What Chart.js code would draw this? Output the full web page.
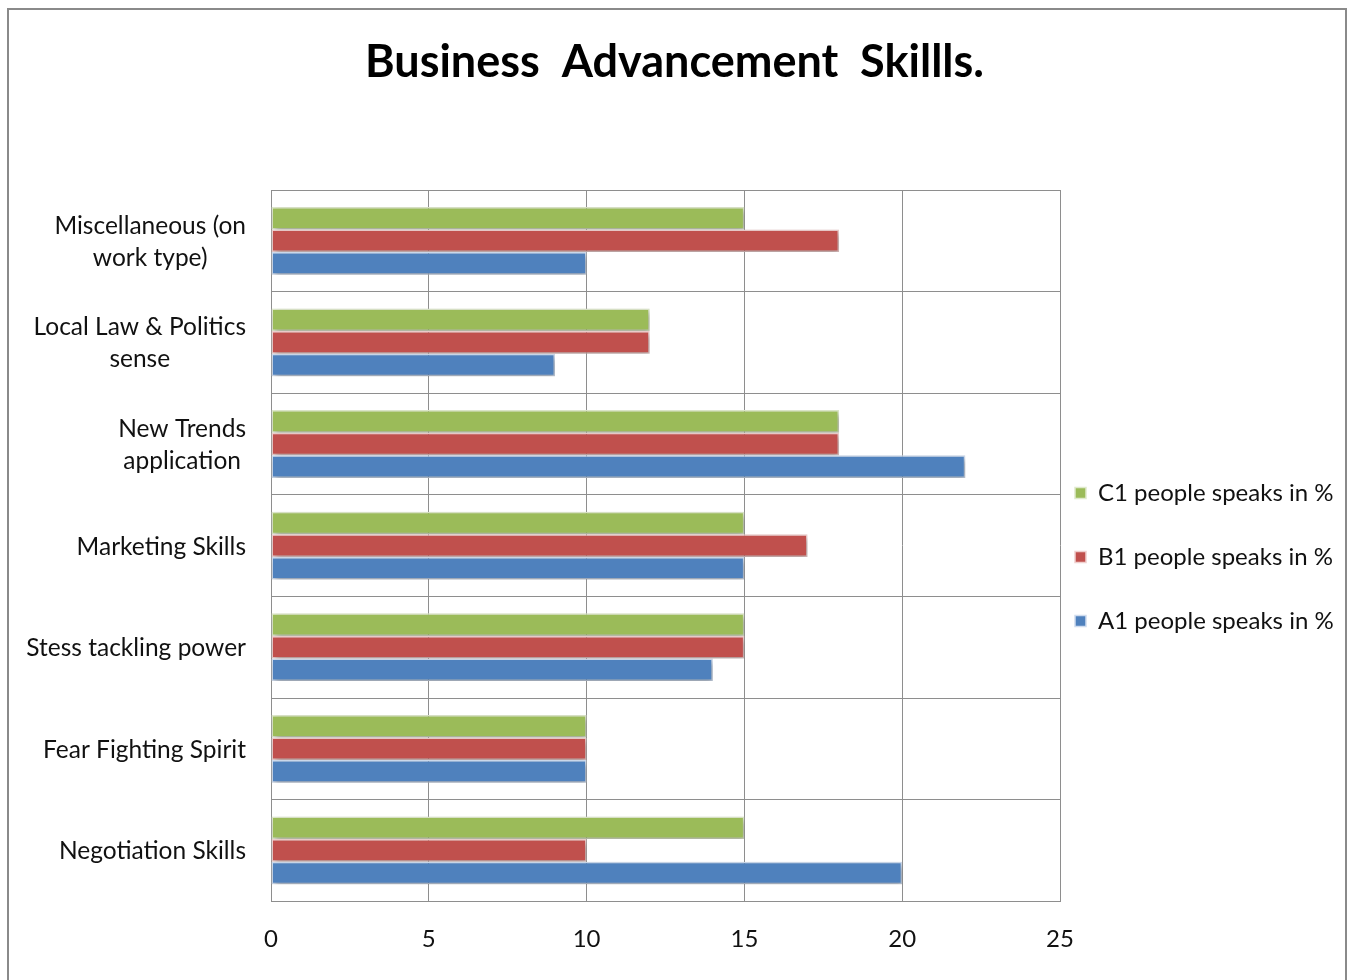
<!DOCTYPE html>
<html>
<head>
<meta charset="utf-8">
<title>Business Advancement Skills</title>
<script src="https://cdn.jsdelivr.net/npm/chart.js@4.4.1/dist/chart.umd.min.js"></script>
<style>
  body { margin: 0; background: #fff; }
  canvas { display: block; }
</style>
</head>
<body>
<canvas id="myChart" width="1349" height="980"></canvas>
<script>
// categories, top to bottom
var skills = [
  ["Miscellaneous (on", "work type)"],
  ["Local Law & Politics", "sense"],
  ["New Trends", "application"],
  ["Marketing Skills"],
  ["Stess tackling power"],
  ["Fear Fighting Spirit"],
  ["Negotiation Skills"]
]
var c1 = [15, 12, 18, 15, 15, 10, 15]
var b1 = [18, 12, 18, 17, 15, 10, 10]
var a1 = [10, 9, 22, 15, 14, 10, 20]
var xTicks = [0, 5, 10, 15, 20, 25]

var FONT = "Lato, 'Open Sans', sans-serif"
var gridColor = "#8e8e8e"

// outer frame round the whole chart
var framePlugin = {
  id: "frame",
  beforeDraw: function(chart){
    var ctx = chart.ctx
    ctx.save()
    ctx.fillStyle = "#fff"
    ctx.fillRect(0, 0, chart.width, chart.height)
    ctx.strokeStyle = "#8a8a8a"
    ctx.lineWidth = 2
    ctx.strokeRect(8, 9, 1338, 1000)
    ctx.restore()
  }
}

// soft drop shadow behind the bars
var shadowPlugin = {
  id: "barShadow",
  beforeDatasetsDraw: function(chart){
    var ctx = chart.ctx
    ctx.save()
    ctx.shadowColor = "rgba(0,0,0,0.3)"
    ctx.shadowBlur = 6
    ctx.shadowOffsetX = 2
    ctx.shadowOffsetY = 3
  },
  afterDatasetsDraw: function(chart){
    chart.ctx.restore()
  }
}

// category names, lines centred on each other, block right aligned
var catLabels = {
  id: "catLabels",
  afterDraw: function(chart){
    var ctx = chart.ctx
    var y = chart.scales.y
    ctx.save()
    ctx.font = "24.5px " + FONT
    ctx.fillStyle = "#111"
    ctx.textBaseline = "middle"
    ctx.textAlign = "center"
    var lineH = 32
    var right = chart.chartArea.left - 25
    for(var i=0;i<skills.length;i++){
      var lines = skills[i]
      var w = 0
      for(var j=0;j<lines.length;j++){
        w = Math.max(w, ctx.measureText(lines[j]).width)
      }
      var cy = y.getPixelForValue(i)
      var top = cy - (lines.length-1)*lineH/2
      for(var j=0;j<lines.length;j++){
        ctx.fillText(lines[j], right - w/2, top + j*lineH + 1)
      }
    }
    ctx.restore()
  }
}

// pull the legend in next to the plot and give it room on the right
var legendShift = {
  id: "legendShift",
  afterLayout: function(chart){
    var lg = chart.legend
    lg.left -= 25
    lg.right = chart.width
    lg.width = lg.right - lg.left
    lg.top += 68
    lg.bottom += 68
  }
}

const ctx = document.getElementById("myChart").getContext("2d")
var myChart = new Chart(ctx, {
  type: "bar",
  data: {
    labels: skills.map(function(s){ return s.join(" ") }),
    datasets: [
      { label: "C1 people speaks in %", data: c1, backgroundColor: "#9bbb59", borderColor: "#dfe9cc" },
      { label: "B1 people speaks in %", data: b1, backgroundColor: "#c0504d", borderColor: "#efcfce" },
      { label: "A1 people speaks in %", data: a1, backgroundColor: "#4f81bd", borderColor: "#cfdcee" }
    ]
  },
  options: {
    indexAxis: "y",
    responsive: false,
    animation: false,
    datasets: {
      bar: { categoryPercentage: 0.667, barPercentage: 1.0, borderWidth: 1.5, borderSkipped: false }
    },
    layout: { padding: { left: 0, right: 0, top: 0, bottom: 2 } },
    plugins: {
      title: {
        display: true,
        text: "Business  Advancement  Skillls.",
        color: "#000",
        font: { family: FONT, size: 45, weight: "bold" },
        padding: { top: 35, bottom: 101 }
      },
      legend: {
        position: "right",
        maxWidth: 289,
        labels: {
          boxWidth: 11,
          boxHeight: 11,
          padding: 40,
          color: "#111",
          font: { family: FONT, size: 24 }
        }
      },
      tooltip: { enabled: false }
    },
    scales: {
      x: {
        min: 0,
        max: 25,
        afterBuildTicks: function(axis){
          axis.ticks = xTicks.map(function(v){ return { value: v } })
        },
        grid: { color: gridColor, drawTicks: false },
        border: { color: gridColor },
        ticks: { color: "#111", padding: 24, font: { family: FONT, size: 24 } }
      },
      y: {
        afterFit: function(scale){ scale.width = 271 },
        grid: { color: gridColor, offset: true, drawTicks: false },
        border: { color: gridColor },
        ticks: { display: false }
      }
    }
  },
  plugins: [framePlugin, shadowPlugin, catLabels, legendShift]
})
</script>
</body>
</html>
